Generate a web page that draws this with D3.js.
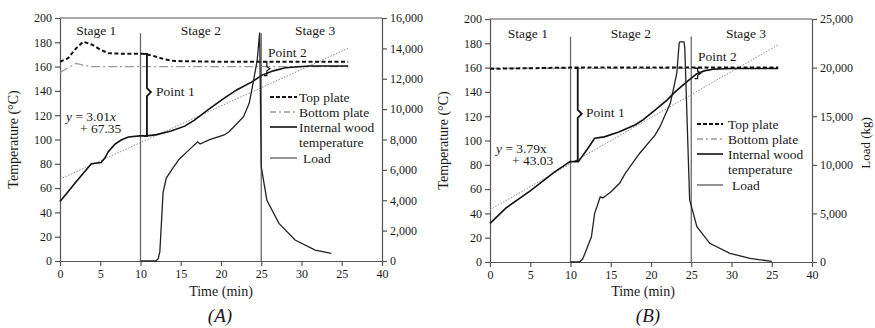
<!DOCTYPE html>
<html>
<head>
<meta charset="utf-8">
<script src="https://cdn.jsdelivr.net/npm/d3@7"></script>
<style>
  body { margin: 0; background: #fff; }
  svg text { font-family: "Liberation Serif", "Times New Roman", serif; fill: #1a1a1a; }
</style>
</head>
<body>
<svg id="chart" width="875" height="328"></svg>
<script>
// ---- data ----
const xTicks = [0, 5, 10, 15, 20, 25, 30, 35, 40];
const xTickLabels = ['0', '5', '10', '15', '20', '25', '30', '25', '40']; // the "25" at 35 is in the original
const tempTicks = [0, 20, 40, 60, 80, 100, 120, 140, 160, 180, 200];
const loadTicksA = [0, 2000, 4000, 6000, 8000, 10000, 12000, 14000, 16000];
const loadTicksB = [0, 5000, 10000, 15000, 20000, 25000];
const stageLabels = ['Stage 1', 'Stage 2', 'Stage 3'];
const stageBounds = [10, 25];
const legendLabels = ['Top plate', 'Bottom plate', 'Internal wood', 'temperature', 'Load'];

// panel A  [time (min), temperature (C)] / [time, load (kg)]
const topPlateA = [[0, 164], [1, 167], [2, 175], [2.9, 180.5], [4, 178], [5, 174], [6, 171], [8, 170.5],
  [10.3, 170.5], [11.5, 169], [13, 166], [14.2, 164.6], [20, 164], [35.8, 164]];
const bottomPlateA = [[0, 155], [1, 159], [2, 162.7], [3, 161], [4, 160], [35.8, 160]];
const internalA = [[0, 49], [1, 57], [1.85, 64], [3, 73], [3.9, 80], [4.4, 80.5], [5.1, 81], [5.6, 85], [6, 90],
  [6.8, 96], [7.6, 99.6], [8.5, 102], [9.9, 103], [10.8, 103], [12, 104], [13.8, 107], [15.5, 111],
  [16.7, 116], [18.5, 125], [20.4, 134], [22, 141], [23.9, 147.6], [25.1, 153], [26.5, 156.5], [28, 159],
  [30.9, 160.5], [35.8, 160.5]];
const loadA = [[10, 0], [11.9, 0], [12.2, 150], [12.4, 600], [12.6, 2500], [12.8, 4500], [13.2, 5460],
  [14, 6100], [14.8, 6700], [16, 7300], [17.1, 7850], [17.4, 7700], [18.5, 7970], [20.4, 8300],
  [21, 8510], [21.6, 8840], [22.8, 9500], [23.5, 10380], [23.9, 11480], [24.5, 13230], [24.8, 15040],
  [25, 6210], [25.7, 4000], [27.2, 2480], [29.2, 1380], [31.7, 720], [33.7, 500]];
const fitA = [[0, 67.35], [35.8, 175.1]];

// panel B
const topPlateB = [[0, 159], [10, 160], [35.8, 160]];
const bottomPlateB = [[0, 159.5], [35.8, 159.3]];
const internalB = [[0, 31.8], [2, 44.5], [5, 58.5], [8, 74], [9.94, 82.6], [10.97, 82.6], [12, 92],
  [13, 101.8], [14.2, 103], [16, 107], [18, 112.8], [19, 117], [20.5, 125], [21.95, 133], [23, 140],
  [24.4, 148], [25.7, 155], [26.7, 157.5], [27.8, 158.6], [30, 159.2], [35.8, 159.2]];
const loadB = [[10, 0], [11.1, 0], [11.5, 300], [11.8, 890], [12.6, 2600], [13, 5000], [13.7, 6720],
  [14, 6580], [15, 7200], [16.1, 8100], [16.8, 9120], [18.6, 11190], [20.5, 13060], [21.1, 13900],
  [22.4, 16330], [23.2, 19400], [23.5, 22500], [23.6, 22650], [24.1, 22650], [24.2, 22000],
  [24.8, 6380], [25.7, 3630], [27.3, 1920], [29.8, 890], [32.3, 380], [35, 60]];
const fitB = [[0, 43.03], [35.8, 178.7]];

const panels = [
  {
    left: 60, right: 382, top: 18, bottom: 261, loadMax: 16000, loadTicks: loadTicksA,
    topPlate: topPlateA, bottomPlate: bottomPlateA, internal: internalA, load: loadA, fit: fitA,
    eq: ['3.01', '+ 67.35'], eqItalicX: true, eqPos: [66, 121, 80, 133],
    stageTop: 187.5, stageX: [4.5, 17.5, 31.7], stageY: 35,
    point1: { t: 10.8, hi: 170.5, lo: 103, tip: 139 }, point1Label: [156, 96],
    point2: { t: 25.7, hi: 164, lo: 152.5 }, point2Label: [268, 57],
    legend: { x0: 270, x1: 297, tx: 299, rows: [97, 112, 127, 142, 158] },
    title: '(A)', titleX: 220, timeX: 221, tempLabelX: 13, loadLabel: false
  },
  {
    left: 490, right: 812, top: 19, bottom: 262, loadMax: 25000, loadTicks: loadTicksB,
    topPlate: topPlateB, bottomPlate: bottomPlateB, internal: internalB, load: loadB, fit: fitB,
    eq: ['3.79', '+ 43.03'], eqItalicX: false, eqPos: [496, 153, 512, 165],
    stageTop: 185.5, stageX: [4.7, 17.5, 31.8], stageY: 38,
    point1: { t: 10.9, hi: 159.6, lo: 83, tip: 122 }, point1Label: [586, 117],
    point2: { t: 25.8, hi: 159.6, lo: 151 }, point2Label: [698, 61],
    legend: { x0: 697, x1: 723, tx: 728, rows: [124, 139, 154, 169, 185] },
    title: '(B)', titleX: 648, timeX: 643, tempLabelX: 443, loadLabel: true
  }
];

const svg = d3.select('#chart');
svg.append('rect').attr('width', 875).attr('height', 328).attr('fill', '#fff');

function drawPanel(p) {
  const g = svg.append('g');
  const x = d3.scaleLinear().domain([0, 40]).range([p.left, p.right]);
  const y = d3.scaleLinear().domain([0, 200]).range([p.bottom, p.top]);
  const yLoad = d3.scaleLinear().domain([0, p.loadMax]).range([p.bottom, p.top]);
  const line = d3.line().x(d => x(d[0])).y(d => y(d[1]));
  const loadLine = d3.line().x(d => x(d[0])).y(d => yLoad(d[1]));

  // frame top
  g.append('line').attr('x1', p.left).attr('x2', p.right).attr('y1', p.top).attr('y2', p.top)
    .attr('stroke', '#555').attr('stroke-width', 1.2);

  // axes
  const styleAxis = sel => {
    sel.selectAll('path, line').attr('stroke', '#555').attr('stroke-width', 1.2);
    sel.selectAll('text').attr('font-size', 12).attr('fill', '#1a1a1a')
      .style('font-family', '"Liberation Serif", serif');
  };
  g.append('g').attr('transform', `translate(0,${p.bottom})`)
    .call(d3.axisBottom(x).tickValues(xTicks).tickFormat((d, i) => xTickLabels[i]).tickSize(5).tickSizeOuter(0))
    .call(styleAxis);
  g.append('g').attr('transform', `translate(${p.left},0)`)
    .call(d3.axisLeft(y).tickValues(tempTicks).tickSize(5).tickSizeOuter(0))
    .call(styleAxis);
  g.append('g').attr('transform', `translate(${p.right},0)`)
    .call(d3.axisRight(yLoad).tickValues(p.loadTicks).tickFormat(d3.format(',')).tickSize(5).tickSizeOuter(0))
    .call(styleAxis);

  // stage boundaries
  stageBounds.forEach(t => {
    g.append('line').attr('x1', x(t)).attr('x2', x(t)).attr('y1', y(0)).attr('y2', y(p.stageTop))
      .attr('stroke', '#6a6a6a').attr('stroke-width', 1.3);
  });
  stageLabels.forEach((s, i) => {
    g.append('text').attr('x', x(p.stageX[i])).attr('y', p.stageY).attr('text-anchor', 'middle')
      .attr('font-size', 13.5).text(s);
  });

  // fit line
  g.append('path').attr('d', line(p.fit)).attr('fill', 'none').attr('stroke', '#8c8c8c')
    .attr('stroke-width', 1).attr('stroke-dasharray', '1.5,1.5');

  // series
  g.append('path').attr('d', line(p.bottomPlate)).attr('fill', 'none').attr('stroke', '#9a9a9a')
    .attr('stroke-width', 1.3).attr('stroke-dasharray', '9,3,2,3');
  g.append('path').attr('d', line(p.topPlate)).attr('fill', 'none').attr('stroke', '#111')
    .attr('stroke-width', 2).attr('stroke-dasharray', '4,2.5');
  g.append('path').attr('d', line(p.internal)).attr('fill', 'none').attr('stroke', '#111')
    .attr('stroke-width', 1.6);
  g.append('path').attr('d', loadLine(p.load)).attr('fill', 'none').attr('stroke', '#222')
    .attr('stroke-width', 1.3);

  // point 1 brace
  const b1 = p.point1, bx = x(b1.t);
  g.append('path')
    .attr('d', `M${bx - 3},${y(b1.hi)}H${bx}V${y(b1.tip) - 4}L${bx + 4},${y(b1.tip)}L${bx},${y(b1.tip) + 4}V${y(b1.lo)}H${bx - 3}`)
    .attr('fill', 'none').attr('stroke', '#111').attr('stroke-width', 1.8);
  g.append('text').attr('x', p.point1Label[0]).attr('y', p.point1Label[1]).attr('font-size', 13.5).text('Point 1');

  // point 2 brace
  const b2 = p.point2, cx = x(b2.t), mid = (y(b2.hi) + y(b2.lo)) / 2;
  g.append('path')
    .attr('d', `M${cx - 3},${y(b2.hi)}H${cx}V${mid - 2}L${cx + 3},${mid}L${cx},${mid + 2}V${y(b2.lo)}H${cx - 3}`)
    .attr('fill', 'none').attr('stroke', '#111').attr('stroke-width', 1.2);
  g.append('text').attr('x', p.point2Label[0]).attr('y', p.point2Label[1]).attr('font-size', 13.5).text('Point 2');

  // equation
  const eq = g.append('text').attr('x', p.eqPos[0]).attr('y', p.eqPos[1]).attr('font-size', 13.5);
  eq.append('tspan').attr('font-style', 'italic').text('y');
  eq.append('tspan').text(' = ' + p.eq[0]);
  eq.append('tspan').attr('font-style', p.eqItalicX ? 'italic' : 'normal').text('x');
  g.append('text').attr('x', p.eqPos[2]).attr('y', p.eqPos[3]).attr('font-size', 13.5).text(p.eq[1]);

  // legend
  const L = p.legend;
  const sample = (row, attrs) => {
    const l = g.append('line').attr('x1', L.x0).attr('x2', L.x1).attr('y1', row).attr('y2', row).attr('fill', 'none');
    Object.entries(attrs).forEach(([k, v]) => l.attr(k, v));
  };
  sample(L.rows[0], { stroke: '#111', 'stroke-width': 2, 'stroke-dasharray': '4,2' });
  sample(L.rows[1], { stroke: '#9a9a9a', 'stroke-width': 1.3, 'stroke-dasharray': '6,3,2,3' });
  sample(L.rows[2], { stroke: '#111', 'stroke-width': 1.6 });
  sample(L.rows[4], { stroke: '#666', 'stroke-width': 1.4 });
  legendLabels.forEach((s, i) => {
    g.append('text').attr('x', L.tx + (i === 4 ? 4 : 0)).attr('y', L.rows[i] + 4.5).attr('font-size', 13.5).text(s);
  });

  // axis titles
  g.append('text').attr('x', p.timeX).attr('y', 296).attr('text-anchor', 'middle').attr('font-size', 14).text('Time (min)');
  g.append('text').attr('transform', `translate(${p.tempLabelX},${(p.top + p.bottom) / 2}) rotate(-90)`)
    .attr('text-anchor', 'middle').attr('dy', '0.35em').attr('font-size', 14).text('Temperature (°C)');
  if (p.loadLabel) {
    g.append('text').attr('transform', `translate(865,143) rotate(-90)`)
      .attr('text-anchor', 'middle').attr('dy', '0.35em').attr('font-size', 13).text('Load (kg)');
  }
  g.append('text').attr('x', p.titleX).attr('y', 322).attr('text-anchor', 'middle')
    .attr('font-size', 19).attr('font-style', 'italic').text(p.title);
}

panels.forEach(drawPanel);
</script>
</body>
</html>
